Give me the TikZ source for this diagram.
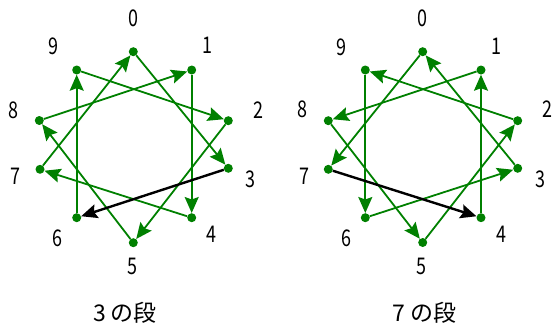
\documentclass[tikz,border=0pt]{standalone}
\usepackage{fontspec}
\usetikzlibrary{arrows.meta}
\newfontfamily\labfont[FakeStretch=0.78]{Noto Sans CJK JP}
\newfontfamily\titfont{Noto Sans CJK JP}
\definecolor{dgreen}{RGB}{0,128,0}
\tikzset{
  dot/.style={circle, fill=dgreen, draw=none, inner sep=0pt, minimum size=9pt},
  numlab/.style={inner sep=0pt, font=\labfont\fontsize{23}{23}\selectfont},
  title/.style={inner sep=0pt, font=\titfont\fontsize{23}{23}\selectfont},
  garrow/.style={draw=dgreen, line width=1.8pt, -{Stealth[length=16pt,width=14pt,inset=2.5pt]}, fill=dgreen},
  barrow/.style={draw=black, line width=2.4pt, -{Stealth[length=16pt,width=14pt,inset=2.5pt]}}
}
\begin{document}
\begin{tikzpicture}[x=1pt,y=-1pt]
\useasboundingbox (0,0) rectangle (552,327);
% dots, left
\foreach \n/\x/\y in {0/133.3/51.7, 1/191.7/70, 2/228.3/120.7, 3/228.3/168.3, 4/191.7/217.7, 5/133.3/242.7, 6/76.7/217.7, 7/40/169.3, 8/39.3/120.5, 9/76.7/70}
  \node[dot] (L\n) at (\x,\y) {};
% dots, right
\foreach \n/\x/\y in {0/422.7/51.7, 1/481/70, 2/517.7/120.7, 3/517.7/168.3, 4/481/217.7, 5/422.7/242.5, 6/365.3/217.7, 7/328.3/169.3, 8/328.3/120.7, 9/365.3/70}
  \node[dot] (R\n) at (\x,\y) {};
% labels, left
\foreach \n/\x/\y in {0/133.3/18.5, 1/207.3/45, 2/258.3/110, 3/250.7/179.3, 4/211.7/234.3, 5/132.3/266, 6/57.3/238.3, 7/15/176, 8/13.3/110, 9/53.3/46.7}
  \node[numlab] (LL\n) at (\x,\y) {\n};
% labels, right
\foreach \n/\x/\y in {0/422.7/18.5, 1/496/46, 2/547.7/109.3, 3/540/179.3, 4/501/234.3, 5/421/266, 6/346/238.3, 7/304.3/176, 8/302/109.3, 9/341.7/47.3}
  \node[numlab] (RL\n) at (\x,\y) {\n};
% arrows, left: 3 times table
\foreach \a/\b in {0/3, 6/9, 9/2, 2/5, 5/8, 8/1, 1/4, 4/7, 7/0}
  \draw[garrow] (L\a) -- (L\b);
\draw[barrow] (L3) -- (L6);
% arrows, right: 7 times table
\foreach \a/\b in {0/7, 4/1, 1/8, 8/5, 5/2, 2/9, 9/6, 6/3, 3/0}
  \draw[garrow] (R\a) -- (R\b);
\draw[barrow] (R7) -- (R4);
% titles
\node[title] (T1) at (125,313) {3 の段};
\node[title] (T2) at (424.3,313) {7 の段};
\end{tikzpicture}
\end{document}
